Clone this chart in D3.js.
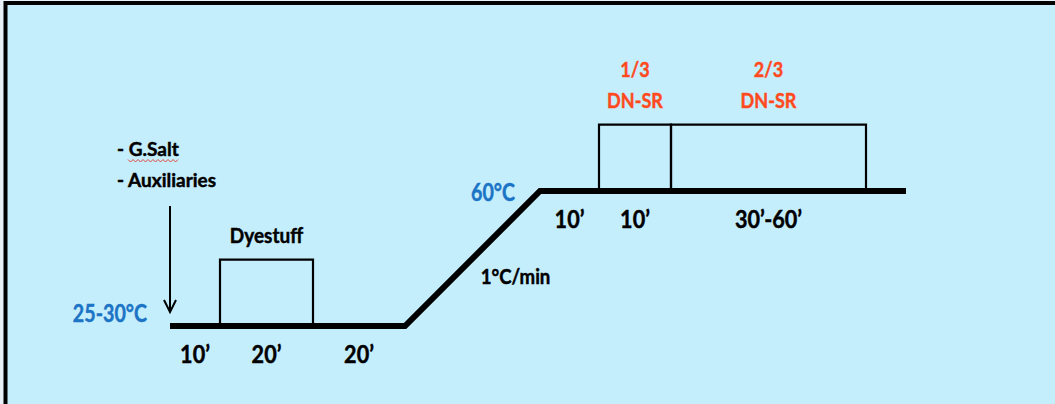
<!DOCTYPE html>
<html>
<head>
<meta charset="utf-8">
<script src="https://cdn.jsdelivr.net/npm/d3@7"></script>
<style>
  body { margin: 0; background: #e9f1f8; }
  text { font-family: Lato, "Open Sans", sans-serif; font-weight: bold; }
</style>
</head>
<body>
<div id="chart"></div>
<script>

// frame constants
const FRAME_WIDTH = 1055;
const FRAME_HEIGHT = 404;

// process data: schematic width of each step, its label, and temperature at each breakpoint
const SEG_LABELS = ["10’", "20’", "20’", "", "10’", "10’", "30’-60’", ""];
const SEG_SPANS = [50, 93, 92, 135, 59, 72, 195, 40];
const BREAK_TEMPS = [27.5, 27.5, 27.5, 27.5, 60, 60, 60, 60, 60];

// temperature labels at start of each plateau (breakpoint index)
const TEMP_LABELS = ["25-30°C", "60°C"];
const TEMP_AT = [0, 4];

// dosing steps drawn as boxes over a segment
const DOSE_LABELS = [["Dyestuff"], ["1/3", "DN-SR"], ["2/3", "DN-SR"]];
const DOSE_SEG = [1, 5, 6];
const DOSE_RISE = 16;

const RAMP_LABEL = "1°C/min";
const ADDITIONS = ["- G.Salt", "- Auxiliaries"];

const BLUE = "#1b74c5";
const RED = "#ff4a1e";

// breakpoints in schematic units
const BREAKS = [0].concat(Array.from(d3.cumsum(SEG_SPANS)));

const X = d3.scaleLinear()
            .domain([0, d3.max(BREAKS)])
            .range([170, 906]);

const Y = d3.scaleLinear()
            .domain([d3.min(BREAK_TEMPS), d3.max(BREAK_TEMPS)])
            .range([326, 191]);

const FRAME = d3.select("#chart")
                .append("svg")
                  .attr("width", FRAME_WIDTH)
                  .attr("height", FRAME_HEIGHT);

// narrow, heavy text like the original slide font
function label(x, y, t, size, color, anchor, sx) {
  FRAME.append("text")
        .attr("transform", "translate(" + x + "," + y + ") scale(" + sx + ",1)")
        .attr("text-anchor", anchor)
        .attr("font-size", size)
        .attr("fill", color)
        .attr("stroke", color)
        .attr("stroke-width", 0.45)
        .text(t);
}

// background panel with the dark top / left border
FRAME.append("rect")
      .attr("x", 5.5)
      .attr("y", 3)
      .attr("width", FRAME_WIDTH + 20)
      .attr("height", FRAME_HEIGHT + 20)
      .attr("fill", "#c5eefd")
      .attr("stroke", "#000")
      .attr("stroke-width", 4);

// dosing boxes
DOSE_SEG.forEach((s, i) => {
  const x0 = X(BREAKS[s]), x1 = X(BREAKS[s + 1]);
  const yb = Y(BREAK_TEMPS[s]), yt = Y(BREAK_TEMPS[s] + DOSE_RISE);
  FRAME.append("path")
        .attr("d", `M${x0},${yb}V${yt}H${x1}V${yb}`)
        .attr("fill", "none")
        .attr("stroke", "#000")
        .attr("stroke-width", 2.2);

  const lines = DOSE_LABELS[i];
  lines.forEach((t, j) => {
    label((x0 + x1) / 2, yt - 17 - (lines.length - 1 - j) * 31, t,
          i === 0 ? 20 : 21, i === 0 ? "#000" : RED, "middle", i === 0 ? 0.95 : 0.86);
  });
});

// temperature profile
const profile = d3.line()
                  .x((d, i) => X(BREAKS[i]))
                  .y((d) => Y(d));

FRAME.append("path")
      .attr("d", profile(BREAK_TEMPS))
      .attr("fill", "none")
      .attr("stroke", "#000")
      .attr("stroke-width", 6)
      .attr("stroke-linejoin", "miter");

// step durations under the line
SEG_LABELS.forEach((t, i) => {
  if (!t) return;
  label((X(BREAKS[i]) + X(BREAKS[i + 1])) / 2, Y(BREAK_TEMPS[i]) + 37, t,
        24, "#000", "middle", 0.9);
});

// temperature labels
TEMP_LABELS.forEach((t, i) => {
  const b = TEMP_AT[i];
  label(X(BREAKS[b]) - (i === 0 ? 23 : 25), Y(BREAK_TEMPS[b]) + (i === 0 ? -4 : 10), t,
        24, BLUE, "end", 0.82);
});

// ramp rate label
label((X(BREAKS[3]) + X(BREAKS[4])) / 2 + 43, (Y(BREAK_TEMPS[3]) + Y(BREAK_TEMPS[4])) / 2 + 25,
      RAMP_LABEL, 20, "#000", "middle", 0.93);

// chemical additions with arrow down to start
ADDITIONS.forEach((t, i) => {
  label(117, 156 + i * 31, t, 19, "#000", "start", 1);
});

// red squiggle under G.Salt
const wave = d3.range(0, 51, 2.5).map((d, i) => [128 + d, 160 + (i % 2 ? 2 : -0.5)]);
FRAME.append("path")
      .attr("d", d3.line()(wave))
      .attr("fill", "none")
      .attr("stroke", "#e0342a")
      .attr("stroke-width", 0.9);

const ax = X(0);
FRAME.append("path")
      .attr("d", `M${ax},206V312`)
      .attr("stroke", "#000")
      .attr("stroke-width", 2);
FRAME.append("path")
      .attr("d", `M${ax - 6},300L${ax},312L${ax + 6},300`)
      .attr("fill", "none")
      .attr("stroke", "#000")
      .attr("stroke-width", 2);

</script>
</body>
</html>
